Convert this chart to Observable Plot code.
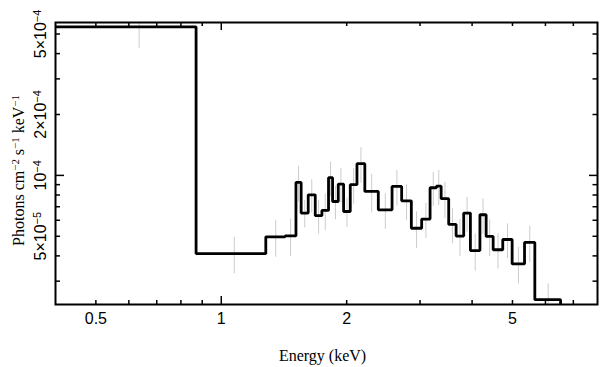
<!DOCTYPE html>
<html>
<head>
<meta charset="utf-8">
<script src="https://cdn.jsdelivr.net/npm/d3@7"></script>
<script src="https://cdn.jsdelivr.net/npm/@observablehq/plot@0.6"></script>
<style>
  html, body { margin: 0; padding: 0; background: #fff; }
  #chart svg { display: block; }
</style>
</head>
<body>
<div id="chart"></div>
<script>
// Bin edges (keV), n+1 values
const energyEdges = [0.4, 0.870, 1.279, 1.423, 1.511, 1.555, 1.617, 1.681, 1.744, 1.809, 1.850,
  1.909, 1.966, 2.040, 2.117, 2.211, 2.382, 2.570, 2.710, 2.859, 3.027, 3.171, 3.284, 3.371,
  3.515, 3.662, 3.819, 3.963, 4.177, 4.323, 4.494, 4.739, 4.991, 5.345, 5.658, 6.523, 7.5];
// Photon flux per bin (photons cm^-2 s^-1 keV^-1)
const photonFlux = [54.2e-5, 4.10e-5, 4.97e-5, 5.02e-5, 9.23e-5, 6.51e-5, 8.02e-5, 6.32e-5, 6.71e-5,
  9.74e-5, 7.43e-5, 9.06e-5, 6.63e-5, 9.00e-5, 11.43e-5, 8.33e-5, 6.76e-5, 8.82e-5, 7.49e-5,
  5.48e-5, 6.08e-5, 8.69e-5, 8.85e-5, 7.67e-5, 5.72e-5, 5.01e-5, 6.51e-5, 4.25e-5, 6.39e-5,
  4.99e-5, 4.29e-5, 4.82e-5, 3.65e-5, 4.66e-5, 2.43e-5, 1.2e-5];
// 1-sigma errors
const fluxError = [11.7e-5, 0.84e-5, 1.03e-5, 1.05e-5, 1.85e-5, 1.0e-5, 1.5e-5, 1.2e-5, 1.37e-5,
  1.9e-5, 1.4e-5, 1.77e-5, 1.1e-5, 1.8e-5, 2.3e-5, 1.8e-5, 1.35e-5, 1.77e-5, 1.5e-5,
  1.13e-5, 1.2e-5, 1.65e-5, 1.75e-5, 1.56e-5, 1.12e-5, 1.03e-5, 1.27e-5, 0.88e-5, 1.27e-5,
  1.03e-5, 0.85e-5, 0.94e-5, 0.75e-5, 0.95e-5, 0.48e-5, 0.5e-5];

const xTickLabels = [0.5, 1, 2, 5];
const xMinorTicks = [0.5, 0.6, 0.7, 0.8, 0.9, 2, 3, 4, 5, 6, 7];
const xMajorTicks = [1];
const yTickValues = [5e-5, 1e-4, 2e-4, 5e-4];
const yTickText = ["5×10^{−5}", "10^{−4}", "2×10^{−4}", "5×10^{−4}"];
const yMinorTicks = [3e-5, 4e-5, 5e-5, 6e-5, 7e-5, 8e-5, 9e-5, 2e-4, 3e-4, 4e-4, 5e-4];
const yMajorTicks = [1e-4];
const xLabel = "Energy (keV)";
const yLabel = "Photons cm^{−2} s^{−1} keV^{−1}";

const bins = photonFlux.map((r, i) => ({
  lo: energyEdges[i], hi: energyEdges[i + 1],
  mid: (energyEdges[i] + energyEdges[i + 1]) / 2,
  rate: r, err: fluxError[i]
}));
const stepPts = bins.flatMap(b => [{e: b.lo, r: b.rate}, {e: b.hi, r: b.rate}]);

const W = 608, H = 367;
const mT = 22, mR = 11, mB = 63, mL = 55;
const pw = W - mL - mR, ph = H - mT - mB;
const sans = "Liberation Sans, Arial, Helvetica, sans-serif";
const serif = "Liberation Serif, Times New Roman, serif";

const chart = Plot.plot({
  width: W, height: H,
  marginTop: mT, marginRight: mR, marginBottom: mB, marginLeft: mL,
  style: {background: "white", color: "black"},
  x: {type: "log", domain: [0.4, 8], axis: null},
  y: {type: "log", domain: [2.3e-5, 5.7e-4], axis: null},
  marks: [
    Plot.ruleX(bins, {x: "mid", y1: d => d.rate - d.err, y2: d => d.rate + d.err,
      stroke: "#cccccc", strokeWidth: 1, clip: true}),
    Plot.line(stepPts, {x: "e", y: "r", stroke: "black", strokeWidth: 2.8,
      strokeLinejoin: "miter", strokeLinecap: "butt", clip: true}),
    // inward ticks
    Plot.ruleX(xMinorTicks, {x: d => d, insetTop: ph - 4, stroke: "black", strokeWidth: 1.5}),
    Plot.ruleX(xMinorTicks, {x: d => d, insetBottom: ph - 4, stroke: "black", strokeWidth: 1.5}),
    Plot.ruleX(xMajorTicks, {x: d => d, insetTop: ph - 8, stroke: "black", strokeWidth: 1.5}),
    Plot.ruleX(xMajorTicks, {x: d => d, insetBottom: ph - 8, stroke: "black", strokeWidth: 1.5}),
    Plot.ruleY(yMinorTicks, {y: d => d, insetRight: pw - 5, stroke: "black", strokeWidth: 1.5}),
    Plot.ruleY(yMinorTicks, {y: d => d, insetLeft: pw - 4.5, stroke: "black", strokeWidth: 1.5}),
    Plot.ruleY(yMajorTicks, {y: d => d, insetRight: pw - 9, stroke: "black", strokeWidth: 1.5}),
    Plot.ruleY(yMajorTicks, {y: d => d, insetLeft: pw - 8, stroke: "black", strokeWidth: 1.5}),
    Plot.frame({stroke: "black", strokeWidth: 2}),
    // tick labels
    Plot.text(xTickLabels, {x: d => d, text: d => String(d), frameAnchor: "bottom",
      lineAnchor: "top", dy: 8, fontSize: 16, fontFamily: sans, fill: "black"}),
    Plot.text(yTickValues, {y: d => d, text: (d, i) => yTickText[i], frameAnchor: "left",
      rotate: -90, textAnchor: "middle", lineAnchor: "middle", dx: -15,
      fontSize: 16, fontFamily: sans, fill: "black"}),
    // axis labels
    Plot.text([xLabel], {text: d => d, frameAnchor: "bottom", lineAnchor: "middle",
      dy: 51, dx: -4, fontSize: 16, fontFamily: serif, fill: "black"}),
    Plot.text([yLabel], {text: d => d, frameAnchor: "left", rotate: -90,
      textAnchor: "middle", lineAnchor: "middle", dx: -37, dy: 7,
      fontSize: 16, fontFamily: serif, fill: "black"})
  ]
});

// turn ^{...} into superscript tspans
chart.querySelectorAll("text").forEach(el => {
  const s = el.textContent;
  if (!s.includes("^{")) return;
  el.textContent = "";
  const parts = s.split(/(\^\{[^}]*\})/);
  for (const p of parts) {
    if (!p) continue;
    const t = document.createElementNS("http://www.w3.org/2000/svg", "tspan");
    if (p.startsWith("^{")) {
      t.textContent = p.slice(2, -1);
      t.setAttribute("font-size", "68%");
      t.setAttribute("baseline-shift", "45%");
    } else {
      t.textContent = p;
    }
    el.appendChild(t);
  }
});

document.getElementById("chart").appendChild(chart);
</script>
</body>
</html>
